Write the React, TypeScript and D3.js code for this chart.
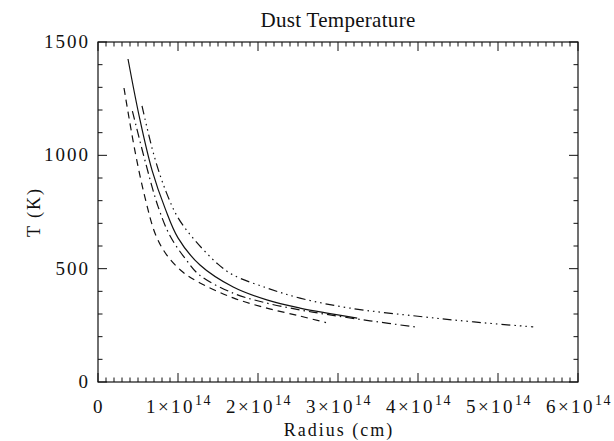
import React from "react";
import * as d3 from "d3";

const title = "Dust Temperature";
const xLabel = "Radius (cm)";
const yLabel = "T (K)";
const xTicks = [0, 1, 2, 3, 4, 5, 6];
const yTicks = [0, 500, 1000, 1500];

// radius in units of 1e14 cm, temperature in K
const solidR = [0.375, 0.525, 0.675, 0.84, 1.0, 1.275, 1.69, 2.11, 2.525, 2.9, 3.24];
const solidT = [1425, 1156, 935, 765, 636, 516, 419, 362, 326, 302, 282];

const dashR = [0.325, 0.46, 0.59, 0.72, 0.86, 1.06, 1.275, 1.69, 2.11, 2.525, 2.85];
const dashT = [1297, 1023, 810, 650, 560, 485, 437, 371, 326, 291, 262];

const dashDotR = [0.43, 0.6, 0.75, 0.9, 1.1, 1.275, 1.69, 2.11, 2.525, 2.9, 3.4, 3.96];
const dashDotT = [1195, 960, 775, 645, 540, 470, 392, 348, 318, 296, 270, 243];

const dash3R = [0.55, 0.7, 0.85, 1.0, 1.21, 1.5, 1.69, 2.11, 2.525, 3.15, 4.0, 4.7, 5.44];
const dash3T = [1218, 1000, 840, 725, 626, 520, 472, 415, 370, 326, 290, 265, 243];

const series = [
  { r: solidR, t: solidT, dash: "none" },
  { r: dashR, t: dashT, dash: "7,5" },
  { r: dashDotR, t: dashDotT, dash: "9,4,1.5,4" },
  { r: dash3R, t: dash3T, dash: "9,4,1.5,4,1.5,4,1.5,4" },
];

export default function App() {
  const W = 614, H = 441;
  const left = 98, right = 578, top = 42, bottom = 382;
  const x = d3.scaleLinear().domain([0, 6]).range([left, right]);
  const y = d3.scaleLinear().domain([0, 1500]).range([bottom, top]);
  const font = "'Liberation Serif', 'DejaVu Serif', serif";
  const line = d3
    .line<[number, number]>()
    .x((d) => x(d[0]))
    .y((d) => y(d[1]))
    .curve(d3.curveCatmullRom.alpha(0.5));

  const xMinor = d3.range(0, 61).map((i) => i / 10);
  const yMinor = d3.range(0, 16).map((i) => i * 100);
  const ink = "#111";
  const ls = 2;

  return (
    <svg width={W} height={H} style={{ position: "absolute", left: 0, top: 0, background: "#fff" }}>
      <rect x={0} y={0} width={W} height={H} fill="#fff" />
      <text x={(left + right) / 2} y={27} textAnchor="middle" fontFamily={font} fontSize={21} letterSpacing={0.3} fill={ink}>
        {title}
      </text>
      <rect x={left} y={top} width={right - left} height={bottom - top} fill="none" stroke={ink} strokeWidth={1.2} />
      {xMinor.map((v, i) => {
        const major = i % 10 === 0;
        const len = major ? 9 : 4.5;
        return (
          <g key={"xm" + i}>
            <line x1={x(v)} x2={x(v)} y1={bottom} y2={bottom - len} stroke={ink} strokeWidth={1} />
            <line x1={x(v)} x2={x(v)} y1={top} y2={top + len} stroke={ink} strokeWidth={1} />
          </g>
        );
      })}
      {yMinor.map((v, i) => {
        const major = i % 5 === 0;
        const len = major ? 9 : 4.5;
        return (
          <g key={"ym" + i}>
            <line x1={left} x2={left + len} y1={y(v)} y2={y(v)} stroke={ink} strokeWidth={1} />
            <line x1={right} x2={right - len} y1={y(v)} y2={y(v)} stroke={ink} strokeWidth={1} />
          </g>
        );
      })}
      {xTicks.map((v) => (
        <text key={"xt" + v} x={x(v) + 1} y={413} textAnchor="middle" fontFamily={font} fontSize={19} letterSpacing={2.5} fill={ink}>
          {v === 0 ? (
            "0"
          ) : (
            <>
              {v}×10
              <tspan dy={-8} fontSize={14} letterSpacing={1.5}>14</tspan>
            </>
          )}
        </text>
      ))}
      {yTicks.map((v) => (
        <text key={"yt" + v} x={88 + ls} y={y(v) + 6} textAnchor="end" fontFamily={font} fontSize={19} letterSpacing={ls} fill={ink}>
          {v}
        </text>
      ))}
      <text x={(left + right) / 2 + ls / 2} y={436} textAnchor="middle" fontFamily={font} fontSize={18} letterSpacing={ls} fill={ink}>
        {xLabel}
      </text>
      <text
        transform={`translate(40, ${(top + bottom) / 2}) rotate(-90)`}
        textAnchor="middle"
        fontFamily={font}
        fontSize={18}
        letterSpacing={ls}
        fill={ink}
      >
        {yLabel}
      </text>
      {series.map((s, i) => (
        <path
          key={"s" + i}
          d={line(s.r.map((r, j) => [r, s.t[j]] as [number, number])) || ""}
          fill="none"
          stroke={ink}
          strokeWidth={1.2}
          strokeDasharray={s.dash}
        />
      ))}
    </svg>
  );
}
